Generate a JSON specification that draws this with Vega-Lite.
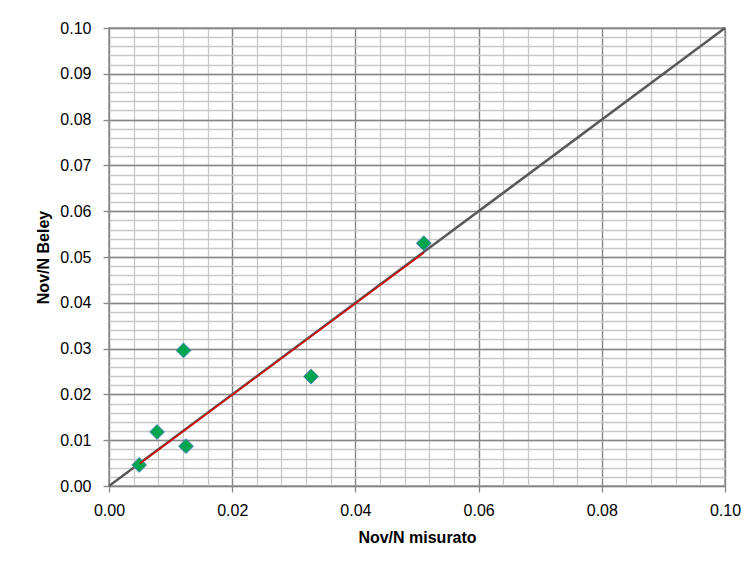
{
  "$schema": "https://vega.github.io/schema/vega-lite/v6.json",
  "width": 616,
  "height": 458,
  "autosize": "none",
  "padding": {"left": 109, "top": 28, "right": 27, "bottom": 82},
  "background": "white",
  "config": {
    "view": {"stroke": "#868686", "strokeWidth": 1.5},
    "font": "Liberation Sans"
  },
  "datasets": {
    "points": [
      {"misurato": 0.0049, "beley": 0.0046},
      {"misurato": 0.0078, "beley": 0.0118},
      {"misurato": 0.0121, "beley": 0.0296},
      {"misurato": 0.0125, "beley": 0.0087},
      {"misurato": 0.0328, "beley": 0.0239},
      {"misurato": 0.0511, "beley": 0.0530}
    ],
    "diag": [
      {"misurato": 0.0, "beley": 0.0},
      {"misurato": 0.1, "beley": 0.1}
    ],
    "trend": [
      {"misurato": 0.0050, "beley": 0.0049},
      {"misurato": 0.0511, "beley": 0.0509}
    ]
  },
  "resolve": {"axis": {"x": "independent", "y": "independent"}},
  "layer": [
    {
      "data": {"name": "diag"},
      "mark": {"type": "line", "color": "#595959", "strokeWidth": 2.5},
      "encoding": {
        "x": {
          "field": "misurato", "type": "quantitative",
          "scale": {"domain": [0, 0.1], "nice": false, "zero": false},
          "axis": {
            "orient": "top",
            "values": [0,0.004,0.008,0.012,0.016,0.02,0.024,0.028,0.032,0.036,0.04,0.044,0.048,0.052,0.056,0.06,0.064,0.068,0.072,0.076,0.08,0.084,0.088,0.092,0.096,0.1],
            "grid": true, "gridColor": "#c8c8c8", "gridWidth": 1.3, "gridOpacity": 1,
            "labels": false, "ticks": false, "domain": false, "title": null
          }
        },
        "y": {
          "field": "beley", "type": "quantitative",
          "scale": {"domain": [0, 0.1], "nice": false, "zero": false},
          "axis": {
            "orient": "right",
            "values": [0,0.002,0.004,0.006,0.008,0.01,0.012,0.014,0.016,0.018,0.02,0.022,0.024,0.026,0.028,0.03,0.032,0.034,0.036,0.038,0.04,0.042,0.044,0.046,0.048,0.05,0.052,0.054,0.056,0.058,0.06,0.062,0.064,0.066,0.068,0.07,0.072,0.074,0.076,0.078,0.08,0.082,0.084,0.086,0.088,0.09,0.092,0.094,0.096,0.098,0.1],
            "grid": true, "gridColor": "#c8c8c8", "gridWidth": 1.3, "gridOpacity": 1,
            "labels": false, "ticks": false, "domain": false, "title": null
          }
        }
      }
    },
    {
      "data": {"name": "points"},
      "mark": {"type": "point", "shape": "diamond", "filled": true, "size": 220, "fill": "#00A550", "stroke": "#4F81BD", "strokeWidth": 1, "opacity": 1},
      "encoding": {
        "x": {
          "field": "misurato", "type": "quantitative",
          "axis": {
            "orient": "bottom",
            "values": [0, 0.02, 0.04, 0.06, 0.08, 0.1],
            "format": ".2f", "labelFlush": false,
            "grid": true, "gridColor": "#868686", "gridWidth": 1.3, "gridOpacity": 1,
            "domain": false, "tickColor": "#868686", "tickSize": 6, "tickWidth": 1.3,
            "labelFontSize": 16, "labelColor": "#000000", "labelPadding": 10,
            "title": "Nov/N misurato", "titleFontSize": 16, "titleFontWeight": "bold", "titleColor": "#000000", "titlePadding": 11
          }
        },
        "y": {
          "field": "beley", "type": "quantitative",
          "axis": {
            "orient": "left",
            "values": [0, 0.01, 0.02, 0.03, 0.04, 0.05, 0.06, 0.07, 0.08, 0.09, 0.1],
            "format": ".2f", "labelFlush": false,
            "grid": true, "gridColor": "#868686", "gridWidth": 1.3, "gridOpacity": 1,
            "domain": false, "tickColor": "#868686", "tickSize": 6, "tickWidth": 1.3,
            "labelFontSize": 16, "labelColor": "#000000", "labelPadding": 12,
            "title": "Nov/N Beley", "titleFontSize": 16, "titleFontWeight": "bold", "titleColor": "#000000", "titlePadding": 8
          }
        }
      }
    },
    {
      "data": {"name": "trend"},
      "mark": {"type": "line", "color": "#E00000", "strokeWidth": 1.5},
      "encoding": {
        "x": {"field": "misurato", "type": "quantitative", "axis": null},
        "y": {"field": "beley", "type": "quantitative", "axis": null}
      }
    }
  ]
}
